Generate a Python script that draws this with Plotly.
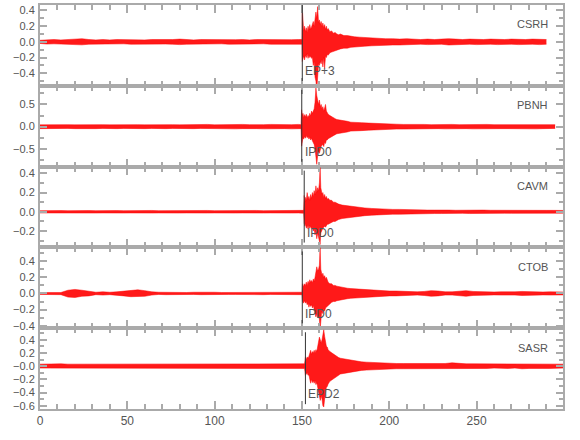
import plotly.graph_objects as go
from plotly.subplots import make_subplots

# ---------------- data ----------------
STATIONS = ["CSRH", "PBNH", "CAVM", "CTOB", "SASR"]
PICK_T = [150.2, 149.9, 151.3, 150.2, 152.0]
PICK_LABELS = ["EP+3", "IPD0", "IPD0", "IPD0", "EPD2"]

PRE_T = [0, 4, 8, 12, 16, 20, 24, 28, 32, 36,
         40, 44, 48, 52, 56, 60, 64, 68, 72, 76,
         80, 84, 88, 92, 96, 100, 104, 108, 112, 116,
         120, 124, 128, 132, 136, 140, 144, 148]

# CSRH
csrh_pre_up = [0.02, 0.025, 0.03, 0.025, 0.03, 0.035, 0.04, 0.03, 0.025, 0.03,
               0.025, 0.03, 0.028, 0.025, 0.03, 0.025, 0.03, 0.028, 0.025, 0.03,
               0.035, 0.03, 0.025, 0.03, 0.028, 0.025, 0.03, 0.025, 0.028, 0.03,
               0.025, 0.03, 0.028, 0.03, 0.025, 0.03, 0.028, 0.03]
csrh_pre_lo = [-0.02, -0.028, -0.025, -0.03, -0.028, -0.035, -0.038, -0.03, -0.028, -0.025,
               -0.03, -0.028, -0.025, -0.03, -0.028, -0.025, -0.03, -0.025, -0.028, -0.03,
               -0.035, -0.03, -0.028, -0.025, -0.03, -0.028, -0.025, -0.03, -0.028, -0.025,
               -0.03, -0.028, -0.025, -0.03, -0.028, -0.03, -0.025, -0.03]
csrh_ev_t = [150.0, 150.2, 150.6, 151, 151.5, 152, 152.5, 153, 153.5, 154,
             154.5, 155, 155.5, 156, 156.5, 157, 157.5, 158, 158.5, 159,
             159.5, 160, 160.5, 161, 161.5, 162, 162.5, 163, 163.5, 164,
             164.5, 165, 166, 167, 168, 169, 170, 171, 172, 174,
             176, 178, 180, 183, 186, 190, 194, 198]
csrh_ev_up = [0.03, 0.43, 0.2, 0.14, 0.2, 0.13, 0.18, 0.12, 0.2, 0.15,
              0.22, 0.16, 0.19, 0.22, 0.26, 0.2, 0.32, 0.38, 0.3, 0.45,
              0.25, 0.28, 0.22, 0.26, 0.2, 0.24, 0.18, 0.22, 0.16, 0.2,
              0.15, 0.17, 0.13, 0.14, 0.11, 0.12, 0.1, 0.09, 0.1, 0.08,
              0.08, 0.07, 0.065, 0.06, 0.055, 0.05, 0.045, 0.04]
csrh_ev_lo = [-0.03, -0.25, -0.22, -0.18, -0.23, -0.17, -0.2, -0.15, -0.21, -0.17,
              -0.2, -0.18, -0.21, -0.2, -0.3, -0.25, -0.45, -0.5, -0.62, -0.35,
              -0.28, -0.3, -0.25, -0.28, -0.22, -0.32, -0.2, -0.34, -0.18, -0.2,
              -0.16, -0.17, -0.14, -0.13, -0.12, -0.11, -0.1, -0.1, -0.09, -0.08,
              -0.08, -0.07, -0.065, -0.06, -0.055, -0.05, -0.045, -0.04]
csrh_post_t = [202, 206, 210, 214, 218, 222, 226, 230, 234, 238,
               242, 246, 250, 254, 258, 262, 266, 270, 274, 278,
               282, 286, 290]
csrh_post_up = [0.04, 0.035, 0.04, 0.035, 0.03, 0.035, 0.03, 0.035, 0.04, 0.035,
                0.03, 0.035, 0.03, 0.03, 0.035, 0.03, 0.03, 0.035, 0.03, 0.03,
                0.035, 0.03, 0.03]
csrh_post_lo = [-0.04, -0.04, -0.035, -0.035, -0.03, -0.035, -0.035, -0.03, -0.04, -0.035,
                -0.03, -0.03, -0.035, -0.03, -0.03, -0.035, -0.03, -0.03, -0.035, -0.03,
                -0.03, -0.035, -0.03]

# PBNH
pbnh_pre_up = [0.04, 0.045, 0.04, 0.05, 0.045, 0.04, 0.045, 0.05, 0.04, 0.045,
               0.04, 0.045, 0.05, 0.04, 0.045, 0.04, 0.045, 0.04, 0.05, 0.045,
               0.04, 0.045, 0.04, 0.045, 0.05, 0.04, 0.045, 0.04, 0.045, 0.05,
               0.045, 0.04, 0.045, 0.05, 0.045, 0.04, 0.045, 0.05]
pbnh_pre_lo = [-0.045, -0.04, -0.05, -0.045, -0.04, -0.045, -0.05, -0.04, -0.045, -0.04,
               -0.05, -0.045, -0.04, -0.045, -0.05, -0.045, -0.04, -0.05, -0.045, -0.04,
               -0.045, -0.05, -0.045, -0.04, -0.045, -0.05, -0.04, -0.045, -0.05, -0.045,
               -0.04, -0.045, -0.05, -0.045, -0.04, -0.045, -0.05, -0.045]
pbnh_ev_t = [149.5, 149.8, 150.2, 150.6, 151, 151.5, 152, 152.5, 153, 153.5,
             154, 154.5, 155, 155.5, 156, 156.5, 157, 157.5, 158, 158.5,
             159, 159.5, 160, 160.5, 161, 161.5, 162, 162.5, 163, 163.5,
             164, 164.5, 165, 166, 167, 168, 169, 170, 172, 174,
             176, 178, 181, 184, 188, 192, 196, 200]
pbnh_ev_up = [0.045, 0.38, 0.25, 0.3, 0.2, 0.27, 0.22, 0.28, 0.2, 0.25,
              0.22, 0.3, 0.24, 0.35, 0.3, 0.35, 0.4, 0.55, 0.87, 0.7,
              0.6, 0.5, 0.6, 0.45, 0.5, 0.4, 0.45, 0.35, 0.42, 0.5,
              0.35, 0.3, 0.28, 0.25, 0.22, 0.2, 0.18, 0.16, 0.15, 0.13,
              0.12, 0.1, 0.1, 0.09, 0.08, 0.07, 0.065, 0.06]
pbnh_ev_lo = [-0.045, -0.44, -0.3, -0.25, -0.28, -0.22, -0.26, -0.2, -0.25, -0.22,
              -0.28, -0.24, -0.3, -0.26, -0.32, -0.35, -0.4, -0.5, -0.7, -0.85,
              -0.65, -0.55, -0.6, -0.5, -0.45, -0.42, -0.4, -0.45, -0.35, -0.38,
              -0.3, -0.3, -0.27, -0.25, -0.22, -0.2, -0.18, -0.16, -0.15, -0.13,
              -0.12, -0.1, -0.1, -0.09, -0.08, -0.07, -0.065, -0.06]
pbnh_post_t = [204, 208, 212, 216, 220, 224, 228, 232, 236, 240,
               244, 248, 252, 256, 260, 264, 268, 272, 276, 280,
               284, 288, 292, 295]
pbnh_post_up = [0.055, 0.05, 0.055, 0.05, 0.05, 0.045, 0.05, 0.045, 0.05, 0.045,
                0.05, 0.045, 0.045, 0.05, 0.045, 0.045, 0.05, 0.045, 0.045, 0.05,
                0.045, 0.045, 0.04, 0.045]
pbnh_post_lo = [-0.055, -0.055, -0.05, -0.05, -0.045, -0.05, -0.045, -0.05, -0.045, -0.05,
                -0.045, -0.05, -0.045, -0.045, -0.05, -0.045, -0.045, -0.05, -0.045, -0.045,
                -0.05, -0.045, -0.045, -0.04]

# CAVM
cavm_pre_up = [0.012, 0.014, 0.012, 0.013, 0.012, 0.014, 0.012, 0.013, 0.012, 0.014,
               0.012, 0.013, 0.012, 0.014, 0.012, 0.013, 0.014, 0.012, 0.013, 0.012,
               0.014, 0.012, 0.013, 0.012, 0.014, 0.012, 0.013, 0.015, 0.012, 0.013,
               0.012, 0.014, 0.012, 0.013, 0.012, 0.014, 0.012, 0.013]
cavm_pre_lo = [-0.012, -0.013, -0.014, -0.012, -0.013, -0.012, -0.014, -0.012, -0.013, -0.012,
               -0.014, -0.012, -0.013, -0.012, -0.014, -0.012, -0.013, -0.012, -0.014, -0.012,
               -0.013, -0.012, -0.014, -0.012, -0.013, -0.012, -0.014, -0.012, -0.013, -0.012,
               -0.014, -0.012, -0.013, -0.012, -0.014, -0.012, -0.013, -0.012]
cavm_ev_t = [151.0, 151.3, 151.7, 152, 152.5, 153, 153.5, 154, 154.5, 155,
             155.5, 156, 156.5, 157, 157.5, 158, 158.5, 159, 159.5, 160,
             160.4, 160.8, 161.2, 161.6, 162, 162.5, 163, 163.5, 164, 164.5,
             165, 166, 167, 168, 169, 170, 171, 173, 175, 177,
             180, 183, 186, 190, 194, 198, 202, 206]
cavm_ev_up = [0.015, 0.17, 0.1, 0.15, 0.12, 0.2, 0.13, 0.16, 0.12, 0.18,
              0.14, 0.2, 0.16, 0.22, 0.18, 0.27, 0.2, 0.25, 0.22, 0.3,
              0.46, 0.25, 0.2, 0.18, 0.2, 0.15, 0.18, 0.14, 0.16, 0.13,
              0.14, 0.12, 0.12, 0.1, 0.1, 0.09, 0.08, 0.07, 0.065, 0.06,
              0.05, 0.045, 0.04, 0.035, 0.03, 0.03, 0.025, 0.025]
cavm_ev_lo = [-0.015, -0.12, -0.15, -0.12, -0.17, -0.14, -0.18, -0.14, -0.17, -0.15,
              -0.18, -0.16, -0.2, -0.18, -0.24, -0.2, -0.28, -0.22, -0.26, -0.3,
              -0.34, -0.22, -0.2, -0.18, -0.17, -0.16, -0.15, -0.16, -0.14, -0.13,
              -0.13, -0.12, -0.11, -0.1, -0.1, -0.09, -0.08, -0.07, -0.065, -0.06,
              -0.05, -0.045, -0.04, -0.035, -0.03, -0.03, -0.025, -0.025]
cavm_post_t = [210, 214, 218, 222, 226, 230, 234, 238, 242, 246,
               250, 254, 258, 262, 266, 270, 274, 278, 282, 286,
               290, 294, 298, 299.5]
cavm_post_up = [0.022, 0.02, 0.02, 0.018, 0.018, 0.02, 0.018, 0.016, 0.018, 0.016,
                0.016, 0.018, 0.016, 0.015, 0.016, 0.015, 0.016, 0.015, 0.015, 0.016,
                0.015, 0.015, 0.014, 0.014]
cavm_post_lo = [-0.022, -0.02, -0.018, -0.02, -0.018, -0.018, -0.016, -0.018, -0.016, -0.018,
                -0.016, -0.016, -0.015, -0.016, -0.015, -0.016, -0.015, -0.016, -0.015, -0.015,
                -0.016, -0.015, -0.014, -0.014]

# CTOB
ctob_pre_up = [0.012, 0.012, 0.015, 0.012, 0.04, 0.05, 0.04, 0.03, 0.015, 0.02,
               0.015, 0.02, 0.03, 0.04, 0.045, 0.035, 0.02, 0.015, 0.012, 0.015,
               0.012, 0.012, 0.015, 0.012, 0.012, 0.015, 0.012, 0.012, 0.015, 0.012,
               0.012, 0.015, 0.012, 0.012, 0.015, 0.012, 0.015, 0.015]
ctob_pre_lo = [-0.012, -0.015, -0.012, -0.015, -0.045, -0.05, -0.035, -0.03, -0.015, -0.02,
               -0.015, -0.02, -0.03, -0.04, -0.04, -0.035, -0.02, -0.012, -0.015, -0.012,
               -0.015, -0.012, -0.012, -0.015, -0.012, -0.012, -0.015, -0.012, -0.012, -0.015,
               -0.012, -0.012, -0.015, -0.012, -0.012, -0.015, -0.012, -0.015]
ctob_ev_t = [150.0, 150.3, 150.8, 151.3, 152, 152.5, 153, 153.5, 154, 154.5,
             155, 155.5, 156, 156.5, 157, 157.5, 158, 158.5, 159, 159.5,
             160, 160.4, 160.8, 161.2, 161.6, 162, 162.5, 163, 163.5, 164,
             164.5, 165, 166, 167, 168, 169, 170, 172, 174, 176,
             178, 181, 184, 188, 192, 196, 200, 204]
ctob_ev_up = [0.015, 0.12, 0.08, 0.12, 0.1, 0.14, 0.1, 0.15, 0.12, 0.17,
              0.14, 0.16, 0.13, 0.18, 0.15, 0.2, 0.25, 0.33, 0.28, 0.3,
              0.35, 0.57, 0.3, 0.25, 0.22, 0.25, 0.2, 0.22, 0.18, 0.2,
              0.15, 0.14, 0.12, 0.12, 0.1, 0.1, 0.09, 0.08, 0.07, 0.065,
              0.06, 0.055, 0.05, 0.045, 0.04, 0.035, 0.03, 0.03]
ctob_ev_lo = [-0.015, -0.1, -0.12, -0.09, -0.12, -0.1, -0.14, -0.12, -0.17, -0.13,
              -0.16, -0.14, -0.18, -0.15, -0.2, -0.22, -0.29, -0.25, -0.3, -0.28,
              -0.32, -0.45, -0.28, -0.25, -0.22, -0.25, -0.2, -0.22, -0.18, -0.17,
              -0.15, -0.14, -0.12, -0.11, -0.1, -0.1, -0.09, -0.08, -0.07, -0.065,
              -0.06, -0.055, -0.05, -0.045, -0.04, -0.035, -0.03, -0.03]
ctob_post_t = [208, 212, 216, 220, 224, 228, 232, 236, 240, 244,
               248, 252, 256, 260, 264, 268, 272, 276, 280, 284,
               288, 292, 296, 299.5]
ctob_post_up = [0.025, 0.02, 0.02, 0.025, 0.035, 0.03, 0.02, 0.02, 0.025, 0.035,
                0.025, 0.02, 0.02, 0.018, 0.02, 0.018, 0.02, 0.025, 0.02, 0.018,
                0.018, 0.02, 0.018, 0.018]
ctob_post_lo = [-0.025, -0.02, -0.02, -0.025, -0.035, -0.03, -0.02, -0.02, -0.025, -0.035,
                -0.025, -0.02, -0.02, -0.018, -0.02, -0.018, -0.02, -0.025, -0.02, -0.018,
                -0.018, -0.02, -0.018, -0.018]

# SASR
sasr_pre_up = [0.03, 0.035, 0.03, 0.035, 0.03, 0.03, 0.035, 0.03, 0.03, 0.035,
               0.03, 0.03, 0.035, 0.03, 0.03, 0.035, 0.03, 0.03, 0.03, 0.035,
               0.03, 0.03, 0.035, 0.03, 0.03, 0.03, 0.035, 0.03, 0.03, 0.03,
               0.035, 0.03, 0.03, 0.03, 0.035, 0.03, 0.03, 0.035]
sasr_pre_lo = [-0.03, -0.03, -0.035, -0.03, -0.03, -0.035, -0.03, -0.03, -0.035, -0.03,
               -0.03, -0.035, -0.03, -0.03, -0.03, -0.035, -0.03, -0.035, -0.03, -0.03,
               -0.035, -0.03, -0.03, -0.035, -0.03, -0.03, -0.03, -0.035, -0.03, -0.03,
               -0.03, -0.035, -0.03, -0.035, -0.03, -0.03, -0.035, -0.03]
sasr_ev_t = [151.5, 152, 152.5, 153, 153.5, 154, 154.5, 155, 155.5, 156,
             156.5, 157, 157.5, 158, 158.5, 159, 159.5, 160, 160.5, 161,
             161.5, 162, 162.5, 163, 163.5, 164, 164.5, 165, 166, 167,
             168, 169, 170, 171, 172, 174, 176, 178, 180, 182,
             184, 187, 190, 193, 196, 200, 204, 208]
sasr_ev_up = [0.035, 0.14, 0.1, 0.14, 0.12, 0.15, 0.2, 0.24, 0.18, 0.22,
              0.2, 0.24, 0.2, 0.25, 0.22, 0.3, 0.35, 0.44, 0.4, 0.35,
              0.4, 0.5, 0.55, 0.45, 0.35, 0.3, 0.29, 0.25, 0.22, 0.2,
              0.19, 0.17, 0.15, 0.13, 0.12, 0.11, 0.1, 0.09, 0.08, 0.07,
              0.065, 0.06, 0.055, 0.05, 0.05, 0.045, 0.04, 0.04]
sasr_ev_lo = [-0.035, -0.14, -0.12, -0.1, -0.14, -0.13, -0.2, -0.26, -0.2, -0.25,
              -0.22, -0.26, -0.22, -0.28, -0.25, -0.32, -0.4, -0.5, -0.52, -0.45,
              -0.5, -0.6, -0.62, -0.5, -0.4, -0.32, -0.31, -0.27, -0.23, -0.21,
              -0.2, -0.17, -0.15, -0.13, -0.12, -0.11, -0.1, -0.09, -0.08, -0.07,
              -0.065, -0.06, -0.055, -0.05, -0.05, -0.045, -0.04, -0.04]
sasr_post_t = [212, 216, 220, 224, 228, 232, 236, 240, 244, 248,
               252, 256, 260, 264, 268, 272, 276, 280, 284, 288,
               292, 296, 299.5]
sasr_post_up = [0.04, 0.035, 0.035, 0.04, 0.035, 0.04, 0.05, 0.04, 0.035, 0.035,
                0.035, 0.03, 0.035, 0.035, 0.03, 0.035, 0.04, 0.035, 0.035, 0.03,
                0.035, 0.035, 0.03]
sasr_post_lo = [-0.04, -0.04, -0.035, -0.035, -0.04, -0.035, -0.045, -0.04, -0.035, -0.04,
                -0.035, -0.035, -0.03, -0.035, -0.035, -0.03, -0.04, -0.035, -0.03, -0.035,
                -0.035, -0.03, -0.03]

# axis tick labels
Y_RANGES = [[-0.56, 0.47], [-0.9, 0.92], [-0.37, 0.47], [-0.43, 0.57], [-0.65, 0.575]]
Y_TICKVALS = [[-0.4, -0.2, 0.0, 0.2, 0.4],
              [-0.5, 0.0, 0.5],
              [-0.2, 0.0, 0.2, 0.4],
              [-0.4, -0.2, 0.0, 0.2, 0.4],
              [-0.6, -0.4, -0.2, 0.0, 0.2, 0.4]]
Y_TICKTEXT = [["\u22120.4", "\u22120.2", "0.0", "0.2", "0.4"],
              ["\u22120.5", "0.0", "0.5"],
              ["\u22120.2", "0.0", "0.2", "0.4"],
              ["\u22120.4", "\u22120.2", "0.0", "0.2", "0.4"],
              ["\u22120.6", "\u22120.4", "\u22120.2", "\u22120.0", "0.2", "0.4"]]
Y_MINOR = [0.1, 0.25, 0.1, 0.1, 0.1]
X_TICKVALS = [0, 50, 100, 150, 200, 250]
X_TICKTEXT = ["0", "50", "100", "150", "200", "250"]

TRACES = [
    (csrh_pre_up, csrh_pre_lo, csrh_ev_t, csrh_ev_up, csrh_ev_lo, csrh_post_t, csrh_post_up, csrh_post_lo),
    (pbnh_pre_up, pbnh_pre_lo, pbnh_ev_t, pbnh_ev_up, pbnh_ev_lo, pbnh_post_t, pbnh_post_up, pbnh_post_lo),
    (cavm_pre_up, cavm_pre_lo, cavm_ev_t, cavm_ev_up, cavm_ev_lo, cavm_post_t, cavm_post_up, cavm_post_lo),
    (ctob_pre_up, ctob_pre_lo, ctob_ev_t, ctob_ev_up, ctob_ev_lo, ctob_post_t, ctob_post_up, ctob_post_lo),
    (sasr_pre_up, sasr_pre_lo, sasr_ev_t, sasr_ev_up, sasr_ev_lo, sasr_post_t, sasr_post_up, sasr_post_lo),
]

# ---------------- figure ----------------
FONT = "Liberation Sans, Arial, sans-serif"
GREY = "#aaaaaa"
TXT = "#555555"
RED = "#ff0000"

fig = make_subplots(rows=5, cols=1, shared_xaxes=True, vertical_spacing=0)

for i, tr in enumerate(TRACES):
    pre_up, pre_lo, ev_t, ev_up, ev_lo, post_t, post_up, post_lo = tr
    assert len(pre_up) == len(PRE_T) == len(pre_lo)
    assert len(ev_t) == len(ev_up) == len(ev_lo)
    assert len(post_t) == len(post_up) == len(post_lo)
    t = PRE_T + ev_t + post_t
    up = pre_up + ev_up + post_up
    lo = pre_lo + ev_lo + post_lo
    r = i + 1
    fig.add_trace(go.Scatter(x=t, y=up, mode="lines", line=dict(color=RED, width=0.5),
                             showlegend=False, hoverinfo="skip"), row=r, col=1)
    fig.add_trace(go.Scatter(x=t, y=lo, mode="lines", line=dict(color=RED, width=0.5),
                             fill="tonexty", fillcolor="rgba(255,0,0,0.9)",
                             showlegend=False, hoverinfo="skip"), row=r, col=1)

    xref = "x" if r == 1 else f"x{r}"
    ydom = "y domain" if r == 1 else f"y{r} domain"
    xdom = "x domain" if r == 1 else f"x{r} domain"
    top = 1.0 if r == 1 else 0.95
    fig.add_shape(type="line", xref=xref, yref=ydom, x0=PICK_T[i], x1=PICK_T[i],
                  y0=0.06, y1=top, line=dict(color="#333333", width=1))
    fig.add_annotation(xref=xref, yref=ydom, x=PICK_T[i], y=0.18, text=PICK_LABELS[i],
                       showarrow=False, xanchor="left", yanchor="middle", xshift=1,
                       font=dict(family=FONT, size=12, color=TXT))
    fig.add_annotation(xref=xdom, yref=ydom, x=0.975, y=0.76, text=STATIONS[i],
                       showarrow=False, xanchor="right", yanchor="middle",
                       font=dict(family=FONT, size=11, color=TXT))

    fig.update_yaxes(row=r, col=1, range=Y_RANGES[i], tickmode="array",
                     tickvals=Y_TICKVALS[i], ticktext=Y_TICKTEXT[i],
                     ticks="inside", ticklen=7, tickwidth=1.5, tickcolor=GREY,
                     minor=dict(tickmode="linear", tick0=0, dtick=Y_MINOR[i], ticks="inside",
                                ticklen=4, tickwidth=1.5, tickcolor=GREY),
                     showline=True, linecolor=GREY, linewidth=2, mirror="ticks",
                     showgrid=False, zeroline=False, automargin=False, ticklabelstandoff=1,
                     tickfont=dict(family=FONT, size=11, color=TXT))
    fig.update_xaxes(row=r, col=1, range=[0, 299.5], tickmode="array",
                     tickvals=X_TICKVALS, ticktext=X_TICKTEXT,
                     ticks="inside", ticklen=8, tickwidth=1.5, tickcolor=GREY,
                     minor=dict(tickmode="linear", tick0=0, dtick=10, ticks="inside",
                                ticklen=5, tickwidth=1.5, tickcolor=GREY),
                     showline=True, linecolor=GREY, linewidth=2, mirror="ticks",
                     showgrid=False, zeroline=False, automargin=False,
                     showticklabels=(r == 5),
                     tickfont=dict(family=FONT, size=12, color=TXT))

fig.update_layout(width=580, height=440, margin=dict(l=40, r=17, t=5, b=31),
                  plot_bgcolor="white", paper_bgcolor="white",
                  font=dict(family=FONT, color=TXT), showlegend=False)

fig.write_html("out.html", config={"displayModeBar": False},
               post_script="document.body.style.margin='0px';")
